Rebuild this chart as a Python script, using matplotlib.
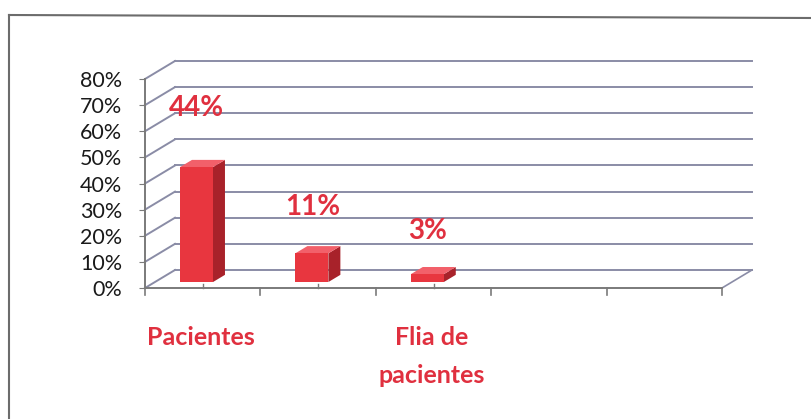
import matplotlib.pyplot as plt
from matplotlib.patches import Polygon

# data
categories = ["Pacientes", "", "Flia de\npacientes", "", ""]
values = [44, 11, 3]
value_labels = ["44%", "11%", "3%"]
yticks = [0, 10, 20, 30, 40, 50, 60, 70, 80]

# style
red_front = "#e8363f"
red_side = "#a8222a"
red_top = "#f2606a"
label_red = "#e0303f"
grid_col = "#8a8ca6"
label_lift = [25, 20, 19]          # where the data labels sit above the bars

DX, DY = 0.26, 6.9                 # 3d depth offset in data units
FRONT, DEPTH = 0.33, 0.40          # bar position inside the depth
BAR_L, BAR_R = 0.303, 0.589

plt.rcParams['font.family'] = ['Lato', 'DejaVu Sans']

fig = plt.figure(figsize=(8.11, 4.2), dpi=100)
ax = fig.add_axes([145/811, 132/420, 577/811, 209/420])
ax.set_xlim(0, len(categories))
ax.set_ylim(0, 80)

# outer chart border (scan)
fig.add_artist(plt.Line2D([9/811, 9/811], [1 - 15/420, 1 - 418/420], color="#6c6c6c", lw=1.5))
fig.add_artist(plt.Line2D([9/811, 1], [1 - 15/420, 1 - 18/420], color="#6c6c6c", lw=1.5))

n = len(categories)
# walls / gridlines
for v in yticks:
    ax.plot([0, DX], [v, v + DY], color=grid_col, lw=1.4, clip_on=False, zorder=1)
    ax.plot([DX, n + DX], [v + DY, v + DY], color=grid_col, lw=1.4, clip_on=False, zorder=1)
ax.plot([n, n + DX], [0, DY], color=grid_col, lw=1.2, clip_on=False, zorder=1)
ax.plot([0, n], [0, 0], color="#7a7a7a", lw=1.4, clip_on=False, zorder=2)

# boundary ticks and small center ticks
for i in range(n + 1):
    ax.plot([i, i], [0, -2.5], color="#7a7a7a", lw=1.2, clip_on=False)
for i in range(len(values)):
    ax.plot([i + 0.5, i + 0.5], [0, 1.6], color="#7a7a7a", lw=1.0, clip_on=False, zorder=5)

# 3d bars
for i, v in enumerate(values):
    x0, x1 = i + BAR_L, i + BAR_R
    y0 = FRONT * DY
    y1 = y0 + v
    ox, oy = DEPTH * DX, DEPTH * DY
    ax.add_patch(Polygon([(x1, y0), (x1 + ox, y0 + oy), (x1 + ox, y1 + oy), (x1, y1)],
                         closed=True, fc=red_side, ec="none", zorder=3, clip_on=False))
    ax.add_patch(Polygon([(x0, y1), (x1, y1), (x1 + ox, y1 + oy), (x0 + ox, y1 + oy)],
                         closed=True, fc=red_top, ec="none", zorder=3, clip_on=False))
    ax.add_patch(Polygon([(x0, y0), (x1, y0), (x1, y1), (x0, y1)],
                         closed=True, fc=red_front, ec="none", zorder=4, clip_on=False))
    ax.text(i + 0.45, v + label_lift[i], value_labels[i], color=label_red, fontsize=20,
            fontweight="bold", ha="center", va="center", zorder=6)

# category labels
for i, c in enumerate(categories):
    if c:
        ax.text(i + 0.48, -14.5, c, color=label_red, fontsize=18, fontweight="bold",
                ha="center", va="top", linespacing=1.8)

# y axis
ax.set_yticks(yticks)
ax.set_yticklabels([f"{t}%" for t in yticks], fontsize=15.5, color="#1a1a1a")
ax.set_xticks([])
for s in ["top", "right", "bottom"]:
    ax.spines[s].set_visible(False)
ax.spines["left"].set_color("#7a7a7a")
ax.spines["left"].set_linewidth(1.4)
ax.tick_params(axis="y", length=4, color="#7a7a7a", pad=12.5)
ax.patch.set_alpha(0)

fig.savefig("out.png", dpi=100)
